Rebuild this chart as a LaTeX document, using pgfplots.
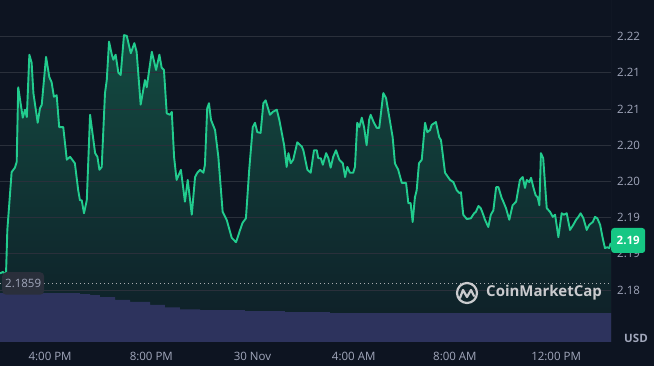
\documentclass[border=0pt]{standalone}
\usepackage{pgfplots}
\usepackage{pgfplotstable}
\pgfplotsset{compat=1.18}
\usepackage{fontspec}
\setmainfont{Open Sans}
\definecolor{bg}{HTML}{0D1421}
\definecolor{gridc}{HTML}{2A303B}
\definecolor{cmcgreen}{HTML}{22CC8E}
\definecolor{boxgreen}{HTML}{16C784}
\definecolor{ticktxt}{HTML}{A1A7BB}
\definecolor{vol}{HTML}{2D335D}
\definecolor{labbox}{HTML}{2A2F3B}

% time in hours (14 = 2:00 PM on 29 Nov, 24 = midnight), price in USD
\pgfplotstableread{
t p
14.02 2.1873
14.14 2.1875
14.22 2.1871
14.26 2.1875
14.31 2.1933
14.48 2.2013
14.61 2.2019
14.68 2.2027
14.74 2.2130
14.92 2.2088
15.01 2.2099
15.08 2.2089
15.18 2.2175
15.27 2.2164
15.34 2.2122
15.51 2.2081
15.60 2.2101
15.67 2.2106
15.84 2.2172
15.97 2.2144
16.06 2.2137
16.15 2.2117
16.26 2.2119
16.36 2.2075
16.52 2.2075
16.66 2.2030
16.79 2.2034
16.98 2.2025
17.11 2.1988
17.18 2.1974
17.25 2.1974
17.34 2.1956
17.45 2.1974
17.58 2.2092
17.78 2.2039
17.87 2.2034
17.95 2.2016
18.04 2.2020
18.17 2.2122
18.24 2.2140
18.33 2.2193
18.44 2.2175
18.50 2.2168
18.59 2.2175
18.70 2.2150
18.79 2.2147
18.92 2.2202
19.03 2.2201
19.19 2.2177
19.33 2.2191
19.42 2.2179
19.58 2.2106
19.75 2.2140
19.82 2.2130
20.02 2.2179
20.19 2.2154
20.32 2.2175
20.41 2.2157
20.50 2.2154
20.61 2.2094
20.74 2.2092
20.81 2.2096
20.90 2.2034
21.00 2.2002
21.17 2.2016
21.33 2.1972
21.44 2.2002
21.60 2.1954
21.73 2.2006
21.82 2.2012
21.93 2.2016
22.06 2.2012
22.12 2.2023
22.21 2.2101
22.28 2.2108
22.36 2.2085
22.52 2.2071
22.65 2.2034
22.82 2.1958
22.98 2.1947
23.18 2.1922
23.35 2.1916
23.51 2.1933
23.61 2.1943
23.74 2.1949
23.87 2.2016
24.01 2.2075
24.10 2.2081
24.19 2.2068
24.32 2.2067
24.43 2.2108
24.52 2.2112
24.69 2.2092
24.80 2.2096
24.96 2.2099
25.06 2.2085
25.25 2.2050
25.35 2.2020
25.42 2.2039
25.51 2.2025
25.61 2.2030
25.77 2.2054
25.95 2.2048
26.01 2.2043
26.17 2.2016
26.30 2.2012
26.43 2.2043
26.54 2.2043
26.60 2.2032
26.70 2.2032
26.78 2.2023
26.91 2.2039
27.00 2.2032
27.09 2.2019
27.19 2.2034
27.30 2.2043
27.43 2.2030
27.57 2.2025
27.66 2.2006
27.75 2.2020
27.85 2.2012
27.98 2.2012
28.05 2.2020
28.14 2.2081
28.22 2.2075
28.32 2.2088
28.41 2.2075
28.51 2.2050
28.61 2.2085
28.67 2.2092
28.80 2.2081
28.91 2.2074
29.01 2.2074
29.17 2.2122
29.28 2.2115
29.41 2.2088
29.54 2.2061
29.63 2.2025
29.76 2.2016
29.90 2.1998
30.07 2.1998
30.16 2.1970
30.25 2.1970
30.33 2.1944
30.42 2.1978
30.49 2.1988
30.58 2.2025
30.69 2.2030
30.82 2.2081
30.91 2.2068
31.02 2.2071
31.08 2.2078
31.25 2.2082
31.38 2.2061
31.45 2.2057
31.61 2.2012
31.81 2.2002
31.94 2.1999
32.07 2.1988
32.17 2.1984
32.24 2.1985
32.33 2.1954
32.47 2.1948
32.63 2.1949
32.76 2.1956
32.83 2.1958
32.93 2.1966
33.02 2.1963
33.10 2.1956
33.19 2.1947
33.32 2.1937
33.42 2.1954
33.52 2.1960
33.63 2.1992
33.72 2.1992
33.85 2.1977
33.89 2.1974
34.02 2.1963
34.15 2.1947
34.28 2.1967
34.42 2.1972
34.57 2.2002
34.68 2.2006
34.77 2.1991
34.84 2.2002
34.94 2.1999
35.01 2.2005
35.10 2.1992
35.19 2.1981
35.27 2.1978
35.34 2.1967
35.40 2.2039
35.49 2.2032
35.63 2.1963
35.76 2.1958
35.87 2.1951
35.96 2.1954
36.09 2.1923
36.22 2.1956
36.31 2.1954
36.42 2.1956
36.55 2.1933
36.68 2.1940
36.79 2.1947
36.88 2.1951
36.97 2.1956
37.08 2.1949
37.21 2.1933
37.31 2.1940
37.45 2.1944
37.54 2.1951
37.63 2.1949
37.74 2.1940
37.84 2.1922
37.93 2.1908
38.02 2.1909
38.10 2.1908
38.16 2.1915
}\pricedata

% relative 24h volume profile
\pgfplotstableread{
t v
14.02 1.00
16.79 1.00
17.18 0.98
17.58 0.96
17.97 0.92
18.57 0.86
19.16 0.82
19.95 0.76
20.54 0.71
21.13 0.67
21.93 0.65
23.70 0.63
25.28 0.61
27.06 0.59
38.17 0.59
}\voldata

\begin{document}
\begin{tikzpicture}
\useasboundingbox (0,0) rectangle (654pt,366pt);
\fill[bg] (0,0) rectangle (654pt,366pt);
\begin{axis}[
  at={(0pt,24pt)}, anchor=south west,
  width=611pt, height=342pt, scale only axis,
  xmin=14.02, xmax=38.17, ymin=2.17782, ymax=2.225055,
  axis line style={draw=none},
  tick style={draw=none},
  xtick={16,20,24,28,32,36},
  xticklabels={4:00 PM,8:00 PM,30 Nov,4:00 AM,8:00 AM,12:00 PM},
  ytick={2.185,2.19,2.195,2.2,2.205,2.21,2.215,2.22},
  yticklabels={2.18,2.19,2.19,2.20,2.20,2.21,2.21,2.22},
  yticklabel pos=right,
  /pgf/number format/assume math mode=true,
  ticklabel style={font=\fontsize{11.5}{12}\selectfont, text=ticktxt},
  xticklabel style={anchor=center, yshift=-14pt},
  yticklabel style={anchor=west, xshift=2.7pt},
]
\addplot[draw=none, top color=cmcgreen!30!bg, bottom color=cmcgreen!5!bg]
  table[x=t,y=p]{\pricedata} -- (axis cs:38.16,2.17782) -- (axis cs:14.02,2.17782) -- cycle;
\pgfplotsinvokeforeach{2.185,2.19,2.195,2.2,2.205,2.21,2.215,2.22}{
  \draw[gridc, line width=0.8pt] (axis cs:14.02,#1) -- (axis cs:38.17,#1);
}
\addplot[cmcgreen, line width=1.9pt, line join=round] table[x=t,y=p]{\pricedata};
\draw[gridc, line width=0.8pt] (rel axis cs:1,0) -- (rel axis cs:1,1);
\coordinate (refL) at (axis cs:14.02,2.1859);
\coordinate (refR) at (axis cs:38.17,2.1859);
\coordinate (last) at (axis cs:38.17,2.19184);
\end{axis}
\begin{axis}[
  at={(0pt,24pt)}, anchor=south west,
  width=611pt, height=342pt, scale only axis,
  xmin=14.02, xmax=38.17, ymin=0, ymax=7,
  hide axis,
]
\addplot[const plot, draw=none, fill=vol] table[x=t,y=v]{\voldata} \closedcycle;
\end{axis}
% reference (open) price line and label
\draw[white!65!bg, line width=1pt, dash pattern=on 1pt off 3pt] (refL) -- (refR);
\node[fill=labbox, rounded corners=4pt, text=ticktxt, anchor=west, inner xsep=3pt,
  inner ysep=7pt, text height=8.5pt, text depth=0pt,
  font=\fontsize{11.5}{12}\selectfont] at ([xshift=2pt]refL) {2.1859};
% last price box
\node[fill=boxgreen, rounded corners=3pt, text=white, anchor=west, inner sep=0pt,
  minimum width=34pt, minimum height=25pt,
  font=\fontsize{11.5}{12}\selectfont\bfseries] at (last) {2.19};
% currency
\node[text=ticktxt, font=\fontsize{11.5}{12}\selectfont\bfseries] at (636pt,28pt) {USD};
% watermark
\begin{scope}[white!78!bg, line width=2.2pt, line join=round, line cap=round]
\draw (467pt,73pt) circle (10pt);
\draw (460pt,68pt) -- (463pt,76pt) -- (467pt,69pt) -- (471pt,76pt) -- (474pt,70pt);
\end{scope}
\node[anchor=west, inner sep=0pt, text=white!78!bg, font=\fontsize{15}{15}\selectfont\bfseries]
  at (486pt,73pt) {CoinMarketCap};
\end{tikzpicture}
\end{document}
